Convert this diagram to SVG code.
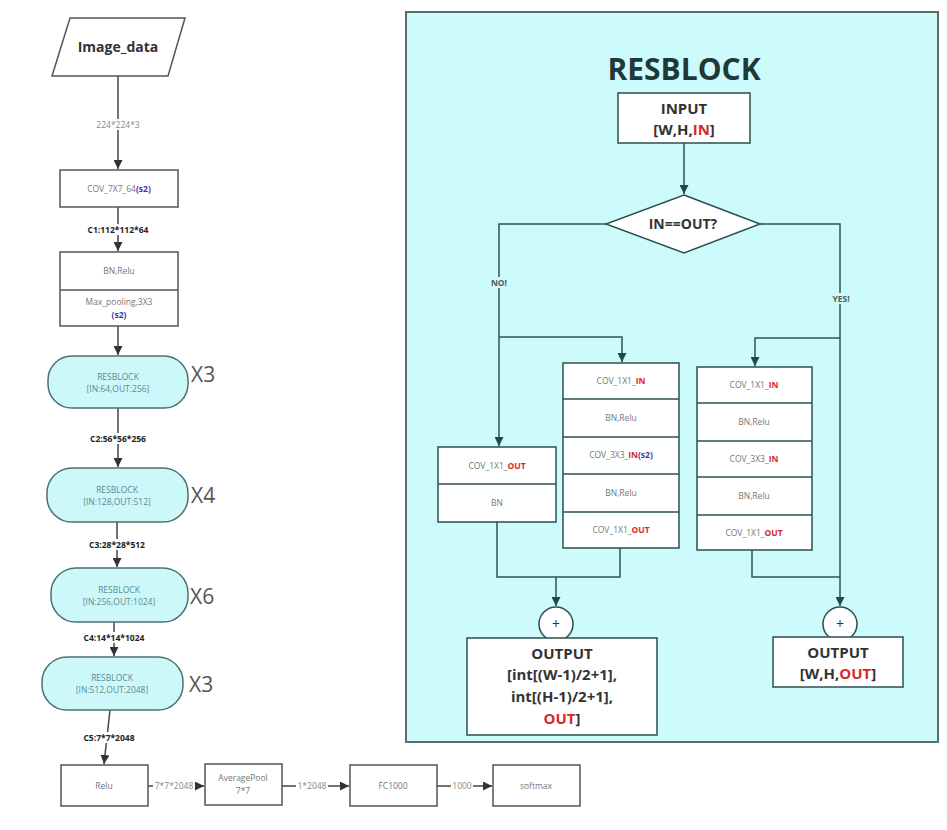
<svg xmlns="http://www.w3.org/2000/svg" width="947" height="830" viewBox="0 0 947 830">
<defs>
<marker id="ah" viewBox="0 0 10 10" refX="10" refY="5" markerWidth="9" markerHeight="9" markerUnits="userSpaceOnUse" orient="auto">
<path d="M0,0 L10,5 L0,10 z" fill="#333"/>
</marker>
<marker id="ahT" viewBox="0 0 10 10" refX="10" refY="5" markerWidth="9" markerHeight="9" markerUnits="userSpaceOnUse" orient="auto">
<path d="M0,0 L10,5 L0,10 z" fill="#234848"/>
</marker>
</defs>
<style>
.box{fill:#fff;stroke:#555;stroke-width:1.5}
.pill{fill:#cdf8fa;stroke:#4d7070;stroke-width:1.5}
.ln{fill:none;stroke:#444;stroke-width:1.5}
.tl{fill:none;stroke:#2c5555;stroke-width:1.5}
.tbox{fill:#fff;stroke:#2c4f4f;stroke-width:1.5}
.sm{font-family:"Open Sans","Liberation Sans",sans-serif;font-size:8.5px;fill:#777;text-anchor:middle}
.lbl{font-family:"Open Sans","Liberation Sans",sans-serif;font-size:8.5px;fill:#222;font-weight:bold;text-anchor:middle}
.glbl{font-family:"Open Sans","Liberation Sans",sans-serif;font-size:8.5px;fill:#888;text-anchor:middle}
.rb{font-family:"Open Sans","Liberation Sans",sans-serif;font-size:8.5px;fill:#5a8a90;text-anchor:middle}
.xn{font-family:"Open Sans","Liberation Sans",sans-serif;font-size:21px;fill:#555}
.big{font-family:"Open Sans","Liberation Sans",sans-serif;font-size:15px;font-weight:bold;fill:#333;text-anchor:middle}
.red{fill:#d42a2a;font-weight:bold}
.blue{fill:#3a3aa8;font-weight:bold}
</style>
<rect width="947" height="830" fill="#fff"/>

<!-- RESBLOCK panel -->
<g id="panel">
<rect x="406" y="12" width="532" height="730" fill="#cdfbfb" stroke="#5a6e6e" stroke-width="2"/>
<text x="684" y="80" font-family="Open Sans, Liberation Sans, sans-serif" font-size="30" font-weight="bold" fill="#1f3838" text-anchor="middle">RESBLOCK</text>
</g>

<!-- connectors -->
<g id="connectors">
<!-- left column -->
<line class="ln" x1="118" y1="76" x2="118" y2="169" marker-end="url(#ah)"/>
<line class="ln" x1="118" y1="207" x2="118" y2="251" marker-end="url(#ah)"/>
<line class="ln" x1="118" y1="326" x2="118" y2="355" marker-end="url(#ah)"/>
<line class="ln" x1="118" y1="408" x2="118" y2="467" marker-end="url(#ah)"/>
<line class="ln" x1="117" y1="522" x2="117" y2="567" marker-end="url(#ah)"/>
<line class="ln" x1="114" y1="622" x2="114" y2="656" marker-end="url(#ah)"/>
<line class="ln" x1="110" y1="710" x2="104" y2="764" marker-end="url(#ah)"/>
<rect x="92" y="119" width="52" height="11" fill="#fff"/>
<text class="glbl" x="118" y="128">224*224*3</text>
<rect x="82" y="224" width="72" height="11" fill="#fff"/>
<text class="lbl" x="118" y="233">C1:112*112*64</text>
<rect x="82" y="433" width="72" height="11" fill="#fff"/>
<text class="lbl" x="118" y="442">C2:56*56*256</text>
<rect x="81" y="539" width="72" height="11" fill="#fff"/>
<text class="lbl" x="117" y="548">C3:28*28*512</text>
<rect x="76" y="632" width="76" height="11" fill="#fff"/>
<text class="lbl" x="114" y="641">C4:14*14*1024</text>
<rect x="74" y="732" width="70" height="11" fill="#fff"/>
<text class="lbl" x="109" y="741">C5:7*7*2048</text>
<!-- bottom row -->
<line class="ln" x1="148" y1="786" x2="204" y2="786" marker-end="url(#ah)"/>
<line class="ln" x1="282" y1="786" x2="349" y2="786" marker-end="url(#ah)"/>
<line class="ln" x1="437" y1="786" x2="492" y2="786" marker-end="url(#ah)"/>
<rect x="153" y="780" width="42" height="11" fill="#fff"/>
<text class="glbl" x="174" y="789">7*7*2048</text>
<rect x="296" y="780" width="32" height="11" fill="#fff"/>
<text class="glbl" x="312" y="789">1*2048</text>
<rect x="451" y="780" width="22" height="11" fill="#fff"/>
<text class="glbl" x="462" y="789">1000</text>
<!-- panel -->
<line class="tl" x1="684" y1="143" x2="684" y2="194" marker-end="url(#ahT)"/>
<polyline class="tl" points="606,224 499,224 499,446" marker-end="url(#ahT)"/>
<polyline class="tl" points="499,337 622,337 622,362" marker-end="url(#ahT)"/>
<polyline class="tl" points="760,224 840,224 840,606" marker-end="url(#ahT)"/>
<polyline class="tl" points="840,338 755,338 755,366" marker-end="url(#ahT)"/>
<polyline class="tl" points="497,522 497,577 620,577 620,548"/>
<line class="tl" x1="556" y1="577" x2="556" y2="606" marker-end="url(#ahT)"/>
<polyline class="tl" points="752,550 752,577 840,577"/>
<rect x="487" y="277" width="24" height="11" fill="#cdfbfb"/>
<text class="sm" x="499" y="286" style="font-weight:bold;fill:#555">NO!</text>
<rect x="828" y="293" width="26" height="11" fill="#cdfbfb"/>
<text class="sm" x="841" y="302" style="font-weight:bold;fill:#555">YES!</text>
</g>

<!-- left column nodes -->
<g id="image_data">
<polygon class="box" points="70,18 185,18 168,76 52,76"/>
<text x="118" y="52" font-family="Open Sans, Liberation Sans, sans-serif" font-size="14" font-weight="bold" fill="#333" text-anchor="middle">Image_data</text>
</g>
<g id="cov7">
<rect class="box" x="60" y="170" width="118" height="37"/>
<text class="sm" x="119" y="192">COV_7X7_64<tspan class="blue">(s2)</tspan></text>
</g>
<g id="bnmax">
<rect class="box" x="60" y="252" width="118" height="74"/>
<line class="box" x1="60" y1="290" x2="178" y2="290"/>
<text class="sm" x="119" y="274">BN,Relu</text>
<text class="sm" x="119" y="305">Max_pooling,3X3</text>
<text class="sm blue" x="119" y="318">(s2)</text>
</g>
<g id="rb1">
<rect class="pill" x="48" y="356" width="140" height="52" rx="24"/>
<text class="rb" x="118" y="380">RESBLOCK</text>
<text class="rb" x="118" y="392">[IN:64,OUT:256]</text>
<text class="xn" x="191" y="382">X3</text>
</g>
<g id="rb2">
<rect class="pill" x="47" y="468" width="141" height="54" rx="25"/>
<text class="rb" x="117" y="493">RESBLOCK</text>
<text class="rb" x="117" y="505">[IN:128,OUT:512]</text>
<text class="xn" x="191" y="503">X4</text>
</g>
<g id="rb3">
<rect class="pill" x="51" y="568" width="137" height="54" rx="25"/>
<text class="rb" x="119" y="593">RESBLOCK</text>
<text class="rb" x="119" y="605">[IN:256,OUT:1024]</text>
<text class="xn" x="190" y="604">X6</text>
</g>
<g id="rb4">
<rect class="pill" x="42" y="657" width="141" height="53" rx="25"/>
<text class="rb" x="112" y="681">RESBLOCK</text>
<text class="rb" x="112" y="693">[IN:512,OUT:2048]</text>
<text class="xn" x="189" y="692">X3</text>
</g>
<g id="relu">
<rect class="box" x="61" y="765" width="87" height="41"/>
<text class="sm" x="104" y="789">Relu</text>
</g>
<g id="avgpool">
<rect class="box" x="205" y="764" width="77" height="41"/>
<text class="sm" x="243" y="781">AveragePool</text>
<text class="sm" x="243" y="794">7*7</text>
</g>
<g id="fc1000">
<rect class="box" x="350" y="765" width="87" height="41"/>
<text class="sm" x="393" y="789">FC1000</text>
</g>
<g id="softmax">
<rect class="box" x="493" y="765" width="87" height="41"/>
<text class="sm" x="536" y="789">softmax</text>
</g>

<!-- panel nodes -->
<g id="input">
<rect class="tbox" x="618" y="93" width="132" height="50"/>
<text class="big" x="684" y="114">INPUT</text>
<text class="big" x="684" y="135">[W,H,<tspan class="red">IN</tspan>]</text>
</g>
<g id="decision">
<polygon class="tbox" points="684,195 760,224 684,253 606,224"/>
<text class="big" x="683" y="229" style="font-size:14px">IN==OUT?</text>
</g>
<g id="shortcut">
<rect class="tbox" x="438" y="447" width="118" height="75"/>
<line class="tbox" x1="438" y1="484" x2="556" y2="484"/>
<text class="sm" x="497" y="469">COV_1X1_<tspan class="red">OUT</tspan></text>
<text class="sm" x="497" y="506">BN</text>
</g>
<g id="mainpath_s2">
<rect class="tbox" x="563" y="363" width="116" height="185"/>
<line class="tbox" x1="563" y1="399" x2="679" y2="399"/>
<line class="tbox" x1="563" y1="437" x2="679" y2="437"/>
<line class="tbox" x1="563" y1="474" x2="679" y2="474"/>
<line class="tbox" x1="563" y1="512" x2="679" y2="512"/>
<text class="sm" x="621" y="384">COV_1X1_<tspan class="red">IN</tspan></text>
<text class="sm" x="621" y="421">BN,Relu</text>
<text class="sm" x="621" y="458">COV_3X3_<tspan class="red">IN</tspan><tspan class="blue">(s2)</tspan></text>
<text class="sm" x="621" y="496">BN,Relu</text>
<text class="sm" x="621" y="533">COV_1X1_<tspan class="red">OUT</tspan></text>
</g>
<g id="mainpath">
<rect class="tbox" x="697" y="367" width="115" height="183"/>
<line class="tbox" x1="697" y1="403" x2="812" y2="403"/>
<line class="tbox" x1="697" y1="441" x2="812" y2="441"/>
<line class="tbox" x1="697" y1="477" x2="812" y2="477"/>
<line class="tbox" x1="697" y1="515" x2="812" y2="515"/>
<text class="sm" x="754" y="388">COV_1X1_<tspan class="red">IN</tspan></text>
<text class="sm" x="754" y="425">BN,Relu</text>
<text class="sm" x="754" y="462">COV_3X3_<tspan class="red">IN</tspan></text>
<text class="sm" x="754" y="499">BN,Relu</text>
<text class="sm" x="754" y="536">COV_1X1_<tspan class="red">OUT</tspan></text>
</g>
<g id="add_left">
<circle class="tbox" cx="556" cy="624" r="17"/>
<text class="big" x="556" y="629" style="font-size:14px;font-weight:normal">+</text>
</g>
<g id="add_right">
<circle class="tbox" cx="840" cy="624" r="17"/>
<text class="big" x="840" y="629" style="font-size:14px;font-weight:normal">+</text>
</g>
<g id="output_left">
<rect class="tbox" x="467" y="638" width="190" height="97"/>
<text class="big" x="562" y="659">OUTPUT</text>
<text class="big" x="562" y="680">[int[(W-1)/2+1],</text>
<text class="big" x="562" y="702">int[(H-1)/2+1],</text>
<text class="big" x="562" y="724"><tspan class="red">OUT</tspan>]</text>
</g>
<g id="output_right">
<rect class="tbox" x="773" y="637" width="130" height="50"/>
<text class="big" x="838" y="658">OUTPUT</text>
<text class="big" x="838" y="679">[W,H,<tspan class="red">OUT</tspan>]</text>
</g>
</svg>
